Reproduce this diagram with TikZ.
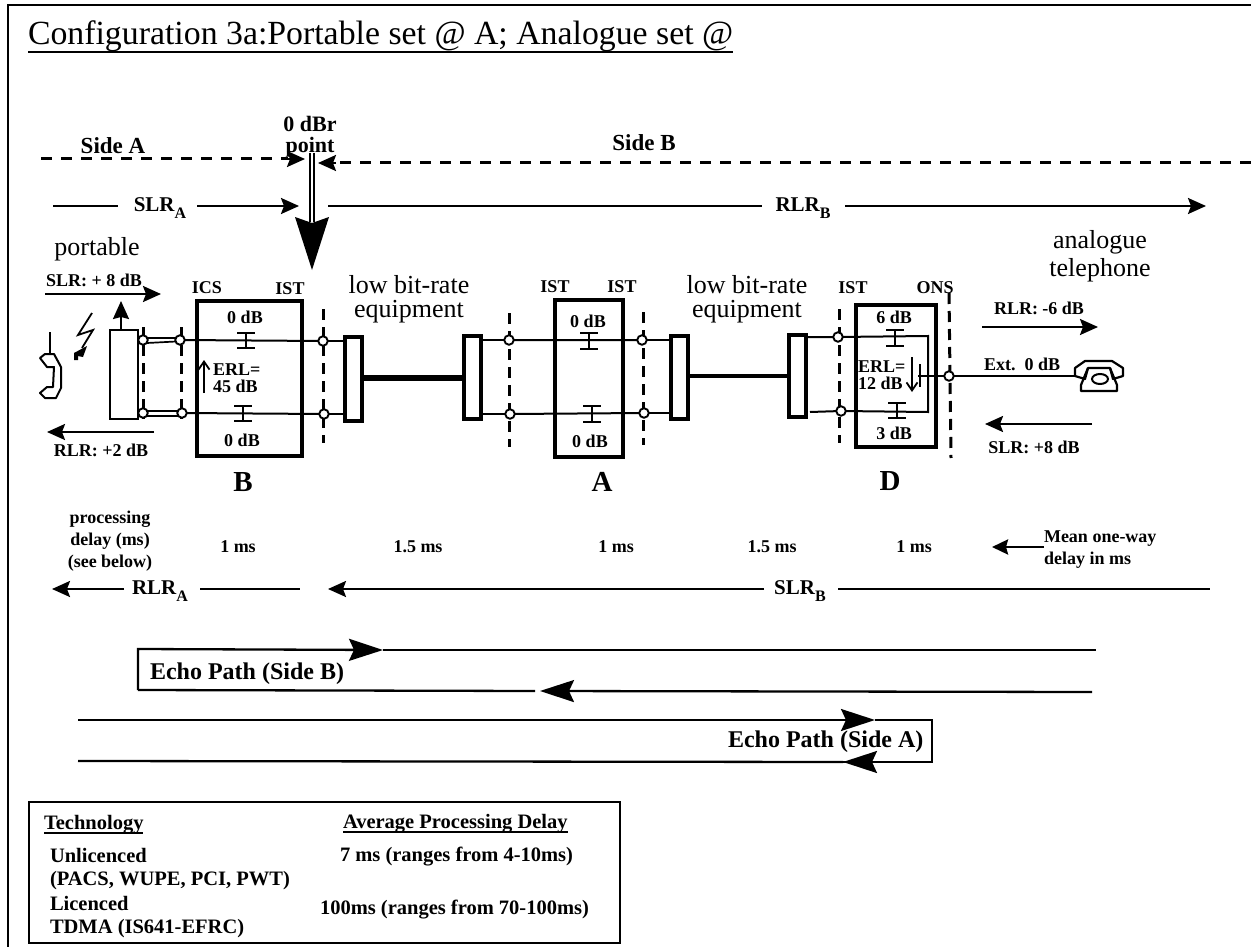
\documentclass[tikz,border=0pt]{standalone}
\usepackage{fontspec}
\setmainfont{Liberation Serif}
\usetikzlibrary{arrows.meta,calc}
\newcommand{\lowsub}[1]{\raisebox{-0.32em}{\fontsize{16}{16}\selectfont #1}}
\newcommand{\capsym}[3]{\draw[line width=1.9] (#1-9,#2)--(#1+9,#2) (#1,#2)--(#1,#3) (#1-9,#3)--(#1+9,#3);}
\tikzset{
  x=1pt,y=-1pt,
  lab/.style={inset,font=\fontsize{18}{20}\selectfont\bfseries},
  inset/.style={inner sep=0pt,outer sep=0pt,align=center},
  labl/.style={lab,anchor=west,align=left},
  mid/.style={inset,font=\fontsize{21}{23}\selectfont\bfseries},
  big/.style={inset,font=\fontsize{26}{28}\selectfont},
  hdr/.style={inset,font=\fontsize{29}{31}\selectfont\bfseries},
  echo/.style={inset,font=\fontsize{24}{26}\selectfont\bfseries},
  tbl/.style={inset,anchor=west,font=\fontsize{20.5}{22}\selectfont\bfseries},
  port/.style={circle,draw,fill=white,line width=1.9,minimum size=9.5pt,inner sep=0pt,outer sep=0pt},
  unit/.style={draw,line width=4.6,fill=none,inner sep=0pt,outer sep=0pt},
  rack/.style={draw,line width=4.6,fill=white,inner sep=0pt,outer sep=0pt},
  wire/.style={line width=2},
  vdash/.style={line width=3,dash pattern=on 11pt off 7pt},
  hdash/.style={line width=3,dash pattern=on 11pt off 9pt},
  arr/.style={line width=2.3,-{Stealth[length=18pt,width=16pt,inset=3pt]}},
  plain/.style={line width=2.3},
  echoarr/.style={line width=2.3,-{Stealth[length=34pt,width=22pt,inset=5pt]}},
}
\begin{document}
\begin{tikzpicture}
\useasboundingbox (0,0) rectangle (1251,947);
% frame
\draw[line width=2.8] (8,960)--(8,5)--(1265,5);
% title
\node[inset,anchor=base west,font=\fontsize{33.8}{36}\selectfont] (title) at (28,45) {Configuration 3a:Portable set @ A; Analogue set @};
\draw[line width=2] ([yshift=-7pt]title.base west)--([yshift=-7pt]title.base east);
% side markers
\node[mid,font=\fontsize{23}{25}\selectfont\bfseries] (sideA) at (113,146) {Side A};
\node[mid,font=\fontsize{23}{25}\selectfont\bfseries] (sideB) at (644,143) {Side B};
\node[mid,font=\fontsize{22}{21}\selectfont\bfseries] (dbr) at (310,137) {0 dBr\\point};
\coordinate (aL) at (41,159); \coordinate (aR) at (305,159);
\coordinate (bR) at (1251,163); \coordinate (bL) at (318,163);
\draw[hdash] (aL)--(288,159);
\draw[arr] (288,159)--(aR);
\draw[hdash] (bR)--(336,163);
\draw[arr] (336,163)--(bL);
% 0 dBr pointer
\coordinate (zt1) at (310,153); \coordinate (zb1) at (310,222);
\coordinate (zt2) at (314,153); \coordinate (zb2) at (314,222);
\draw[line width=2] (zt1)--(zb1) (zt2)--(zb2);
\fill (295,217)--(312,223)--(329,217)--(312,270)--cycle;
% SLR A / RLR B
\node[mid] (slra) at (160,208) {SLR\lowsub{A}};
\coordinate (s1) at (53,206); \coordinate (s2) at (299,206);
\coordinate (s1e) at (118,206); \coordinate (s2b) at (197,206);
\draw[plain] (s1)--(s1e);
\draw[arr] (s2b)--(s2);
\node[mid] (rlrb) at (803,208) {RLR\lowsub{B}};
\coordinate (r1) at (328,206); \coordinate (r2) at (1206,206);
\coordinate (r1e) at (762,206); \coordinate (r2b) at (845,206);
\draw[plain] (r1)--(r1e);
\draw[arr] (r2b)--(r2);
% top labels
\node[big] (portable) at (97,249) {portable};
\node[big,align=center] (lowA) at (409,299) {low bit-rate\\[-4pt]equipment};
\node[big,align=center] (lowB) at (747,299) {low bit-rate\\[-4pt]equipment};
\node[big,align=center] (analog) at (1100,256) {analogue\\telephone};
\node[lab] (slrp) at (94,280) {SLR: + 8 dB};
\draw[arr] (45,294)--(161,294);
\node[lab] (rlrp) at (101,450) {RLR: +2 dB};
\draw[arr] (154,432)--(47,432);
% handset
\coordinate (hs1) at (50,332); \coordinate (hs2) at (50,355);
\draw[line width=1.8] (hs1)--(hs2);
\draw[line width=2,line join=round] (40,358)--(45,354)--(54,354)--(61,367)--(61,388)--(56,398)--(45,398)--(40,393)--(47,387)--(53,387)--(54,367)--(47,367)--cycle;
% lightning
\draw[line width=1.8] (92,313)--(78,335)--(93,330)--(82,348);
\fill (74,360)--(74,353)--(87,346)--(83,357)--(78,356)--(78,360)--cycle;
% portable box
\node[draw,line width=2,fill=white,minimum width=28pt,minimum height=89pt,inner sep=0pt,outer sep=0pt] (pbox) at (124,374.5) {};
\coordinate (pup) at (121,301);
\draw[line width=2,-{Stealth[length=18pt,width=16pt,inset=2pt]}] (121,330)--(pup);
% dashed verticals
\draw[vdash] (143,327)--(143,419);
\draw[vdash] (181,327)--(181,419);
\draw[vdash] (323,309)--(323,443);
\draw[vdash] (509,313)--(509,447);
\draw[vdash] (643,312)--(643,445);
\draw[vdash] (839,309)--(839,443);
\draw[vdash] (949,293)--(951,458);
% ports
\node[port] (p1u) at (143,340) {};
\node[port] (p2u) at (180,340) {};
\node[port] (p1l) at (143,413) {};
\node[port] (p2l) at (182,413) {};
\node[port] (p3u) at (323,341) {};
\node[port] (p3l) at (324,414) {};
\node[port] (p4u) at (509,340) {};
\node[port] (p4l) at (510,414) {};
\node[port] (p5u) at (642,340) {};
\node[port] (p5l) at (644,413) {};
\node[port] (p6u) at (838,337) {};
\node[port] (p6l) at (841,411) {};
\node[port] (p7) at (949,376) {};
% double links
\draw[line width=1.7] (147,338)--(176,338) (147,343)--(176,341.5);
\draw[line width=1.7] (147,411)--(178,411) (147,416)--(178,416);
% units
\node[unit,minimum width=105pt,minimum height=155pt] (boxB) at (249.5,378.5) {};
\node[unit,minimum width=68pt,minimum height=157pt] (boxA) at (589,378.5) {};
\node[unit,minimum width=80pt,minimum height=142pt] (boxD) at (896,376) {};
% racks
\node[rack,minimum width=17pt,minimum height=84pt] (rk1) at (353.5,379) {};
\node[rack,minimum width=17pt,minimum height=83pt] (rk2) at (472.5,377.5) {};
\node[rack,minimum width=17pt,minimum height=83pt] (rk3) at (679.5,377.5) {};
\node[rack,minimum width=17pt,minimum height=82pt] (rk4) at (797.5,376) {};
\draw[line width=6.5] (rk1.east |- 0,378)--(rk2.west |- 0,378);
\draw[line width=4.5] (rk3.east |- 0,376)--(rk4.west |- 0,376);
% wires
\draw[wire] (p2u)--(p3u) (p2l)--(p3l);
\draw[wire] (p3u)--(rk1.west |- p3u) (p3l)--(rk1.west |- p3l);
\draw[wire] (rk2.east |- p4u)--(p4u) (rk2.east |- p4l)--(p4l);
\draw[wire] (p4u)--(p5u) (p4l)--(p5l);
\draw[wire] (p5u)--(rk3.west |- p5u) (p5l)--(rk3.west |- p5l);
\coordinate (jt) at (928,336); \coordinate (jb) at (928,412); \coordinate (jm) at (918,376);
\draw[wire] (rk4.east |- p6u)--(p6u) (810,412)--(p6l);
\draw[wire] (p6u)--(jt)--(jb)--(p6l);
\draw[wire] (jm)--(p7);
\draw[wire] (920,364)--(920,387);
\coordinate (ph) at (1075,376);
\draw[wire] (p7)--(ph);
% attenuators
\capsym{246}{333}{348}
\capsym{243}{406}{421}
\capsym{589}{333}{349}
\capsym{592}{406}{422}
\capsym{895}{330}{346}
\capsym{897}{403}{418}
% erl arrows
\draw[line width=1.8,-{Straight Barb[length=8pt,width=11pt]}] (204,393)--(204,360);
\draw[line width=1.8,-{Straight Barb[length=8pt,width=11pt]}] (912,357)--(912,392);
% unit labels
\node[lab] (dbB1) at (245,317) {0 dB};
\node[lab] (dbB2) at (242,440) {0 dB};
\node[lab] (dbA1) at (588,321) {0 dB};
\node[lab] (dbA2) at (590,441) {0 dB};
\node[lab] (dbD1) at (894,317) {6 dB};
\node[lab] (dbD2) at (894,433) {3 dB};
\node[labl] (erlB) at (213,378) {ERL=\\[-3pt]45 dB};
\node[labl] (erlD) at (858,375.5) {ERL=\\[-3pt]12 dB};
\node[lab] (ics) at (207,288) {ICS};
\node[lab] (ist1) at (290,289) {IST};
\node[lab] (ist2) at (555,287) {IST};
\node[lab] (ist3) at (622,287) {IST};
\node[lab] (ist4) at (853,288) {IST};
\node[lab] (ons) at (935,288) {ONS};
\node[hdr] (nB) at (243,482) {B};
\node[hdr] (nA) at (602,482) {A};
\node[hdr] (nD) at (890,481) {D};
% right side
\node[lab] (rlrt) at (1039,308) {RLR: -6 dB};
\draw[arr] (982,327)--(1098,327);
\node[lab] (ext) at (1022,364) {Ext.\ \ 0 dB};
\node[lab] (slrt) at (1034,447) {SLR: +8 dB};
\draw[arr] (1092,424)--(985,424);
% telephone
\draw[line width=2.2,line join=round] (1075,376)--(1075,368)--(1085,361)--(1112,361)--(1123,368)--(1123,376)--(1113,379)--(1110,368)--(1088,368)--(1085,379)--cycle;
\draw[line width=2.2,line join=round] (1088,368)--(1081,385)--(1081,391)--(1117,391)--(1117,385)--(1110,368);
\draw[line width=2] (1100,379) ellipse [x radius=8,y radius=5];
% delays
\node[lab] (proc) at (110,541.5) {processing\\[2pt]delay (ms)\\[2pt](see below)};
\node[lab] (d1) at (238,547) {1 ms};
\node[lab] (d2) at (418,547) {1.5 ms};
\node[lab] (d3) at (616,547) {1 ms};
\node[lab] (d4) at (772,547) {1.5 ms};
\node[lab] (d5) at (914,547) {1 ms};
\node[labl] (mean) at (1044,550) {Mean one-way\\[2pt]delay in ms};
\draw[line width=2.8,-{Stealth[length=16pt,width=15pt,inset=2pt]}] (mean.west |- 0,547)--(992,547);
% RLR A / SLR B
\node[mid] (rlra) at (160,591) {RLR\lowsub{A}};
\draw[arr] (124,589)--(52,589);
\draw[plain] (200,589)--(300,589);
\node[mid] (slrb) at (800,591) {SLR\lowsub{B}};
\draw[arr] (764,589)--(328,589);
\draw[plain] (838,589)--(1210,589);
% echo B
\coordinate (eb1) at (1096,650); \coordinate (eb2) at (138,649); \coordinate (eb3) at (138,690); \coordinate (eb4) at (1092,692);
\draw[plain] (383,650)--(eb1);
\draw[echoarr] (eb3)--(eb2)--(383,650);
\draw[plain] (eb3)--(535,691);
\draw[echoarr] (eb4)--(540,691);
\node[echo,anchor=west] (echoB) at (150,674) {Echo Path (Side B)};
% echo A
\coordinate (ea1) at (78,720); \coordinate (ea2) at (932,720); \coordinate (ea3) at (932,762); \coordinate (ea4) at (78,761);
\draw[echoarr] (ea1)--(875,720);
\draw[plain] (875,720)--(ea2)--(ea3)--(843,762);
\draw[echoarr] (875,762)--(843,762);
\draw[plain] (843,762)--(ea4);
\node[echo,anchor=west] (echoA) at (728,742) {Echo Path (Side A)};
% table
\node[draw,line width=2.8,minimum width=591pt,minimum height=141pt,inner sep=0pt,outer sep=0pt] (tbl) at (324.5,872.5) {};
\node[tbl] (t1) at (44,825) {Technology};
\draw[line width=1.7] ([yshift=-3pt]t1.base west)--([yshift=-3pt]t1.base east);
\node[tbl] (t2) at (343,824) {Average Processing Delay};
\draw[line width=1.7] ([yshift=-3pt]t2.base west)--([yshift=-3pt]t2.base east);
\node[tbl] (t3) at (50,855) {Unlicenced};
\node[tbl] (t4) at (50,881) {(PACS, WUPE, PCI, PWT)};
\node[tbl] (t5) at (50,903) {Licenced};
\node[tbl] (t6) at (50,929) {TDMA (IS641-EFRC)};
\node[tbl] (t7) at (340,857) {7 ms (ranges from 4-10ms)};
\node[tbl] (t8) at (320,910) {100ms (ranges from 70-100ms)};
\end{tikzpicture}
\end{document}
